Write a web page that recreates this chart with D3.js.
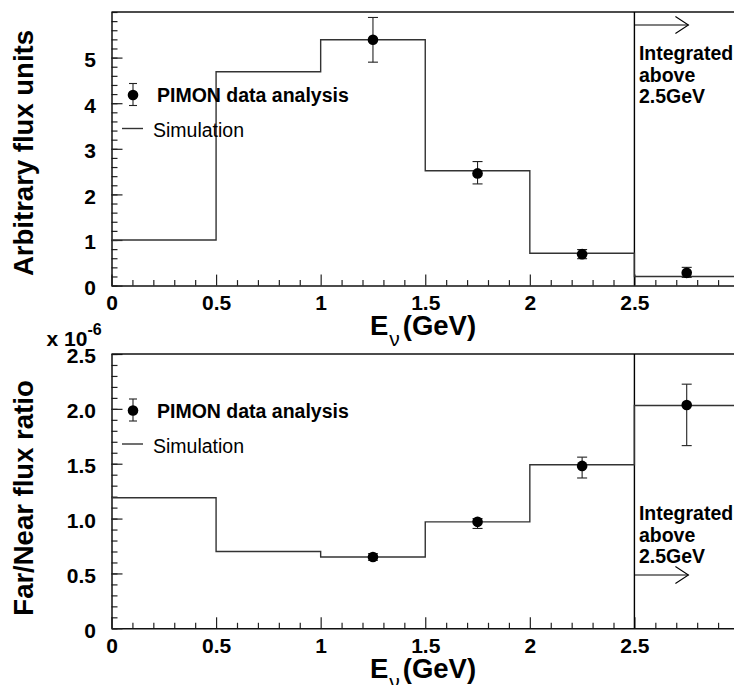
<!DOCTYPE html>
<html>
<head>
<meta charset="utf-8">
<script src="https://cdn.jsdelivr.net/npm/d3@7"></script>
<style>
  body { margin: 0; background: #fff; }
  svg { display: block; }
  text { font-family: "Liberation Sans", Arial, Helvetica, sans-serif; }
</style>
</head>
<body>
<svg id="chart" width="734" height="685"></svg>
<script>
// energy bin edges (GeV), last bin is the one integrated above 2.5GeV
var binEdges = [0, 0.5, 1, 1.5, 2, 2.5, 3];
var dataEnergy = [1.25, 1.75, 2.25, 2.75];

// top panel: flux in arbitrary units
var fluxSim = [1.0, 4.69, 5.39, 2.52, 0.71, 0.20];
var fluxData = [5.39, 2.46, 0.69, 0.28];
var fluxErrUp = [0.49, 0.26, 0.10, 0.12];
var fluxErrDown = [0.49, 0.23, 0.10, 0.10];

// bottom panel: far/near ratio, in units of 1e-6
var ratioSim = [1.19, 0.70, 0.65, 0.97, 1.49, 2.03];
var ratioData = [0.65, 0.97, 1.48, 2.035];
var ratioErrUp = [0.03, 0.03, 0.08, 0.19];
var ratioErrDown = [0.03, 0.06, 0.11, 0.37];

// tick labels (the 3 GeV tick sits just outside the picture)
var xTicks = [0, 0.5, 1, 1.5, 2, 2.5];
var fluxTicks = [0, 1, 2, 3, 4, 5];
var ratioTicks = [0, 0.5, 1, 1.5, 2, 2.5];

var legendLabels = ["PIMON data analysis", "Simulation"];
var integratedLines = ["Integrated", "above", "2.5GeV"];

var svg = d3.select("svg#chart");
var FONT = "\"Liberation Sans\", Arial, Helvetica, sans-serif";

// x scale shared by both panels (frame runs a bit past the right edge of the picture)
var x = d3.scaleLinear().domain([0, 3]).range([111.5, 739]);

function drawPanel(p)
{
  var y = d3.scaleLinear().domain([0, p.yMax]).range([p.bottom, p.top]);
  var g = svg.append("g");

  // minor ticks first, then majors on top
  var xMinor = d3.range(0, 3.0001, 0.1).filter(function(v){ return Math.abs(v*2 - Math.round(v*2)) > 1e-6; });
  g.append("g").attr("transform", "translate(0," + p.bottom + ")")
    .call(d3.axisBottom(x).tickValues(xMinor).tickSize(-5.5).tickFormat(""))
    .call(function(a){ a.select(".domain").remove(); });
  var yMinor = d3.range(0, p.yMax + 1e-6, p.minor);
  g.append("g").attr("transform", "translate(" + x(0) + ",0)")
    .call(d3.axisLeft(y).tickValues(yMinor).tickSize(-6).tickFormat(""))
    .call(function(a){ a.select(".domain").remove(); });

  var xAxis = g.append("g").attr("transform", "translate(0," + p.bottom + ")")
    .call(d3.axisBottom(x).tickValues(xTicks).tickSize(-11).tickSizeOuter(0)
      .tickFormat(d3.format("~g")));
  xAxis.selectAll("text").attr("y", 24.5).attr("dy", null);

  var yAxis = g.append("g").attr("transform", "translate(" + x(0) + ",0)")
    .call(d3.axisLeft(y).tickValues(p.yTicks).tickSize(-11).tickSizeOuter(0)
      .tickPadding(15.5).tickFormat(p.fmt));
  yAxis.selectAll("text").attr("dy", "0.42em");

  g.selectAll(".tick line").attr("stroke", "#222").attr("stroke-width", 1.2);
  g.selectAll(".domain").attr("stroke", "#111").attr("stroke-width", 1.5);
  g.selectAll(".tick text")
    .attr("font-family", FONT).attr("font-size", 21).attr("font-weight", "bold").attr("fill", "#000");

  // top border of the frame
  g.append("line")
    .attr("x1", x(0)).attr("x2", x(3))
    .attr("y1", y(p.yMax)).attr("y2", y(p.yMax))
    .attr("stroke", "#111").attr("stroke-width", 1.5);

  // separator at 2.5 GeV
  g.append("line")
    .attr("x1", x(2.5)).attr("x2", x(2.5))
    .attr("y1", y(0)).attr("y2", y(p.yMax))
    .attr("stroke", "#000").attr("stroke-width", 1.4);

  // simulation histogram
  var pts = p.sim.map(function(v, i){ return [binEdges[i], v]; });
  pts.push([binEdges[binEdges.length - 1], p.sim[p.sim.length - 1]]);
  var line = d3.line()
    .x(function(d){ return x(d[0]); })
    .y(function(d){ return y(d[1]); })
    .curve(d3.curveStepAfter);
  g.append("path").datum(pts)
    .attr("d", line).attr("fill", "none")
    .attr("stroke", "#333").attr("stroke-width", 1.4);

  // data points with (asymmetric) errors
  var pts2 = dataEnergy.map(function(e, i){
    return {e: e, v: p.data[i], up: p.errUp[i], dn: p.errDown[i]};
  });
  var pg = g.selectAll("g.pt").data(pts2).enter().append("g").attr("class", "pt");
  pg.append("line")
    .attr("x1", function(d){ return x(d.e); }).attr("x2", function(d){ return x(d.e); })
    .attr("y1", function(d){ return y(d.v + d.up); }).attr("y2", function(d){ return y(d.v - d.dn); })
    .attr("stroke", "#222").attr("stroke-width", 1.1);
  pg.append("line")
    .attr("x1", function(d){ return x(d.e) - 5; }).attr("x2", function(d){ return x(d.e) + 5; })
    .attr("y1", function(d){ return y(d.v + d.up); }).attr("y2", function(d){ return y(d.v + d.up); })
    .attr("stroke", "#222").attr("stroke-width", 1.1);
  pg.append("line")
    .attr("x1", function(d){ return x(d.e) - 5; }).attr("x2", function(d){ return x(d.e) + 5; })
    .attr("y1", function(d){ return y(d.v - d.dn); }).attr("y2", function(d){ return y(d.v - d.dn); })
    .attr("stroke", "#222").attr("stroke-width", 1.1);
  pg.append("circle")
    .attr("cx", function(d){ return x(d.e); }).attr("cy", function(d){ return y(d.v); })
    .attr("r", 5.3).attr("fill", "#000");

  // legend
  var lg = g.append("g");
  var ly = p.legendY;
  lg.append("line").attr("x1", 133).attr("x2", 133).attr("y1", ly - 11.5).attr("y2", ly + 10.5)
    .attr("stroke", "#222").attr("stroke-width", 1.1);
  lg.append("line").attr("x1", 129).attr("x2", 137).attr("y1", ly - 11.5).attr("y2", ly - 11.5)
    .attr("stroke", "#222").attr("stroke-width", 1.1);
  lg.append("line").attr("x1", 129).attr("x2", 137).attr("y1", ly + 10.5).attr("y2", ly + 10.5)
    .attr("stroke", "#222").attr("stroke-width", 1.1);
  lg.append("circle").attr("cx", 133).attr("cy", ly).attr("r", 5.3).attr("fill", "#000");
  lg.append("text").attr("x", 157).attr("y", ly + 7)
    .attr("font-size", 19.5).attr("font-weight", "bold").text(legendLabels[0]);
  lg.append("line").attr("x1", 122).attr("x2", 143).attr("y1", ly + 33.5).attr("y2", ly + 33.5)
    .attr("stroke", "#333").attr("stroke-width", 1.4);
  lg.append("text").attr("x", 153).attr("y", ly + 42)
    .attr("font-size", 19.5).text(legendLabels[1]);

  // arrow + "Integrated above 2.5GeV"
  var ax0 = x(2.5), ax1 = x(2.5) + 54;
  g.append("line").attr("x1", ax0).attr("x2", ax1).attr("y1", p.arrowY).attr("y2", p.arrowY)
    .attr("stroke", "#000").attr("stroke-width", 1.2);
  g.append("path")
    .attr("d", "M" + (ax1 - 13) + "," + (p.arrowY - 8.5) + "L" + ax1 + "," + p.arrowY + "L" + (ax1 - 13) + "," + (p.arrowY + 8.5))
    .attr("fill", "none").attr("stroke", "#000").attr("stroke-width", 1.1);
  g.append("g").selectAll("text").data(integratedLines).enter().append("text")
    .attr("x", x(2.5) + 4.5)
    .attr("y", function(d, i){ return p.textY + i * 21.5; })
    .attr("font-size", 19.5).attr("font-weight", "bold").text(function(d){ return d; });

  // axis titles
  g.append("text")
    .attr("transform", "translate(33," + p.titleY + ") rotate(-90)")
    .attr("text-anchor", "middle").attr("font-size", 27.5).attr("font-weight", "bold")
    .text(p.yTitle);

  var xt = g.append("text").attr("x", 423).attr("y", p.bottom + 49.5)
    .attr("text-anchor", "middle").attr("font-size", 27.5).attr("font-weight", "bold");
  xt.append("tspan").text("E");
  xt.append("tspan").attr("dy", 11).attr("dx", 1).attr("font-size", 21).attr("font-weight", "normal").text("\u03bd");
  xt.append("tspan").attr("dy", -11).attr("dx", 3).text("(GeV)");

  return y;
}

drawPanel({
  top: 12, bottom: 285.6, yMax: 6, minor: 0.2,
  yTicks: fluxTicks, fmt: d3.format("d"),
  sim: fluxSim, data: fluxData, errUp: fluxErrUp, errDown: fluxErrDown,
  legendY: 95, arrowY: 25, textY: 60,
  yTitle: "Arbitrary flux units", titleY: 153
});

drawPanel({
  top: 354, bottom: 628.3, yMax: 2.5, minor: 0.1,
  yTicks: ratioTicks, fmt: function(v){ return v === 0 ? "0" : d3.format(".1f")(v); },
  sim: ratioSim, data: ratioData, errUp: ratioErrUp, errDown: ratioErrDown,
  legendY: 410.5, arrowY: 575, textY: 520,
  yTitle: "Far/Near flux ratio", titleY: 498
});

// exponent of the lower y axis
var ex = svg.append("text").attr("x", 46.5).attr("y", 345.5)
  .attr("font-size", 21).attr("font-weight", "bold");
ex.append("tspan").text("x 10");
ex.append("tspan").attr("dy", -11).attr("font-size", 16).text("-6");
</script>
</body>
</html>
